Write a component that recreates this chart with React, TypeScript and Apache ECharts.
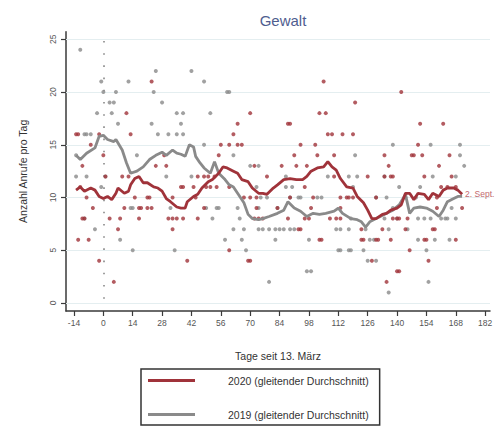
import React, { useEffect, useRef } from "react";
import * as echarts from "echarts";

const xTicks = [-14, 0, 14, 28, 42, 56, 70, 84, 98, 112, 126, 140, 154, 168, 182];
const yTicks = [0, 5, 10, 15, 20, 25];
const refDay = 0;

const label2020 = "2020 (gleitender Durchschnitt)";
const label2019 = "2019 (gleitender Durchschnitt)";
const endLabelText = "2. Sept.";

const avg2020: [number, number][] = [
  [-13, 10.7], [-11, 11.0], [-9, 10.6], [-6, 10.9], [-4, 10.7], [-2, 10.1], [0, 9.9], [2, 10.1], [4, 9.8],
  [6, 10.4], [7, 10.9], [10, 10.4], [12, 10.6], [13, 11.2], [15, 11.8], [17, 12.0], [19, 11.4], [21, 11.4],
  [24, 11.0], [26, 10.9], [28, 10.6], [30, 9.9], [32, 9.6], [35, 9.1], [37, 9.0], [39, 9.0], [40, 9.6],
  [43, 10.1], [45, 10.3], [47, 10.9], [50, 11.5], [52, 11.7], [55, 12.3], [57, 12.9], [59, 12.8], [62, 12.5],
  [64, 12.3], [66, 11.7], [69, 11.5], [71, 10.9], [74, 10.4], [76, 10.4], [78, 10.3], [81, 10.9], [83, 11.2],
  [86, 11.7], [89, 11.8], [92, 11.7], [95, 11.7], [97, 12.0], [99, 12.5], [102, 12.8], [105, 12.9], [107, 13.4],
  [109, 12.9], [111, 12.6], [113, 11.8], [116, 11.0], [119, 10.9], [121, 10.1], [124, 9.5], [126, 8.8],
  [128, 8.0], [130, 8.0], [133, 8.4], [135, 8.5], [137, 8.8], [140, 9.0], [142, 9.3], [144, 10.4], [146, 10.4],
  [148, 9.8], [150, 10.4], [153, 10.3], [155, 9.8], [157, 10.4], [160, 10.1], [162, 10.7], [164, 10.9],
  [167, 10.9], [169, 10.7], [171, 10.3],
];

const avg2019: [number, number][] = [
  [-13, 14.0], [-11, 13.6], [-8, 14.2], [-4, 14.7], [-2, 15.8], [0, 15.9], [2, 15.5], [5, 15.3], [6, 15.5],
  [9, 14.5], [11, 13.3], [13, 12.3], [16, 12.5], [19, 12.9], [22, 13.6], [25, 14.0], [28, 14.3], [30, 14.0],
  [33, 14.5], [35, 14.2], [37, 14.1], [39, 13.9], [41, 15.0], [43, 14.8], [44, 13.9], [46, 13.3], [48, 12.8],
  [51, 12.3], [53, 13.4], [55, 12.3], [58, 11.7], [60, 11.2], [62, 11.0], [64, 10.4], [67, 9.5], [69, 8.4],
  [71, 8.0], [74, 7.9], [76, 8.0], [79, 8.2], [83, 8.5], [86, 8.8], [88, 9.6], [91, 9.0], [94, 8.7], [97, 8.2],
  [100, 8.5], [103, 8.4], [106, 8.5], [110, 8.7], [112, 9.0], [114, 8.5], [118, 8.0], [121, 7.9], [123, 7.7],
  [125, 7.2], [127, 7.7], [130, 8.0], [132, 8.2], [135, 8.5], [138, 8.8], [141, 9.3], [144, 10.3], [146, 8.5],
  [148, 9.0], [151, 9.1], [154, 9.0], [157, 8.7], [160, 8.2], [162, 8.8], [164, 9.6], [167, 9.9], [169, 10.1],
  [171, 10.1],
];

const pts2020: [number, number][] = [
  [23, 21], [105, 21], [142, 20], [120, 19],
  [11, 18], [70, 18], [103, 18], [106, 18],
  [64, 17], [88, 17], [89, 17], [151, 17], [162, 17],
  [-13, 16], [-12, 16], [-2, 16], [13, 16], [62, 16], [107, 16], [109, 16], [114, 16], [119, 16],
  [-6, 15], [56, 15], [60, 15], [64, 15], [66, 15], [94, 15], [101, 15], [150, 15],
  [0, 14], [29, 14], [55, 14], [91, 14], [102, 14], [110, 14], [134, 14], [147, 14], [148, 14], [152, 14], [165, 14],
  [-10, 13], [25, 13], [30, 13], [72, 13], [85, 13], [92, 13], [97, 13], [136, 13], [160, 13],
  [1, 12], [9, 12], [12, 12], [45, 12], [48, 12], [50, 12], [53, 12], [78, 12], [110, 12], [126, 12], [134, 12],
  [137, 12], [138, 12], [153, 12], [166, 12],
  [-11, 11], [37, 11], [38, 11], [43, 11], [49, 11], [51, 11], [54, 11], [60, 11], [96, 11], [161, 11], [164, 11], [168, 11],
  [-8, 10], [15, 10], [21, 10], [22, 10], [33, 10], [44, 10], [67, 10], [70, 10], [73, 10], [89, 10], [100, 10],
  [113, 10], [116, 10], [117, 10], [119, 10], [130, 10], [159, 10],
  [-5, 9], [10, 9], [17, 9], [18, 9], [21, 9], [23, 9], [48, 9], [73, 9], [83, 9], [99, 9], [113, 9], [159, 9], [171, 9],
  [-10, 8], [-9, 8], [3, 8], [8, 8], [17, 8], [31, 8], [33, 8], [35, 8], [38, 8], [45, 8], [72, 8], [74, 8], [76, 8],
  [88, 8], [96, 8], [98, 8], [108, 8], [111, 8], [113, 8], [138, 8], [140, 8], [141, 8], [145, 8],
  [7, 7], [33, 7], [93, 7], [94, 7], [123, 7], [133, 7], [144, 7], [157, 7], [158, 7],
  [-12, 6], [-7, 6], [103, 6], [104, 6], [123, 6], [124, 6], [130, 6], [131, 6], [137, 6], [153, 6], [154, 6], [168, 6],
  [60, 5], [146, 5],
  [-2, 4], [40, 4], [69, 4], [70, 4], [128, 4], [155, 4],
  [140, 3], [141, 3],
  [5, 2], [135, 2],
];

const pts2019: [number, number][] = [
  [-11, 24], [25, 22], [42, 22], [-1, 21], [12, 21], [48, 21],
  [0, 20], [6, 20], [24, 20], [59, 20], [60, 20],
  [3, 19], [5, 19], [28, 19],
  [-3, 18], [4, 18], [35, 18], [38, 18], [51, 18],
  [7, 17], [23, 17], [37, 17],
  [-9, 16], [-8, 16], [-6, 16], [26, 16], [31, 16], [35, 16], [38, 16],
  [48, 15], [138, 15], [156, 15], [170, 15],
  [-13, 14], [16, 14], [62, 14], [120, 14], [170, 14],
  [70, 13], [74, 13], [172, 13],
  [-13, 12], [-8, 12], [1, 12], [30, 12], [42, 12], [87, 12], [107, 12], [117, 12], [121, 12], [134, 12], [157, 12], [168, 12],
  [-1, 11], [73, 11], [87, 11], [90, 11], [119, 11], [141, 11], [151, 11],
  [75, 10], [78, 10], [89, 10], [93, 10], [94, 10], [102, 10], [104, 10], [130, 10], [135, 10], [144, 10], [149, 10],
  [13, 9], [14, 9], [32, 9], [49, 9], [54, 9], [55, 9], [64, 9], [74, 9], [83, 9], [138, 9], [166, 9],
  [-9, 8], [52, 8], [65, 8], [118, 8], [134, 8], [140, 8], [150, 8], [153, 8], [156, 8], [161, 8], [163, 8], [164, 8], [168, 8],
  [-4, 7], [62, 7], [67, 7], [74, 7], [76, 7], [79, 7], [82, 7], [84, 7], [86, 7], [89, 7], [91, 7], [111, 7], [113, 7],
  [117, 7], [125, 7], [136, 7], [145, 7],
  [8, 6], [58, 6], [66, 6], [82, 6], [98, 6], [127, 6], [129, 6], [150, 6], [158, 6], [165, 6],
  [14, 5], [34, 5], [68, 5], [112, 5], [113, 5], [117, 5], [118, 5], [124, 5], [154, 5],
  [126, 4], [130, 4], [97, 3], [99, 3], [79, 2], [155, 2], [136, 1],
];

const FONT = "Liberation Sans, Arial, sans-serif";
const RED = "#a0333a";
const GRAY = "#8a8a8a";

export default function App() {
  const ref = useRef<HTMLDivElement>(null);
  useEffect(() => {
    if (!ref.current) return;
    const chart = echarts.init(ref.current, null, { renderer: "svg" });
    chart.setOption({
      animation: false,
      backgroundColor: "#ffffff",
      textStyle: { fontFamily: FONT },
      title: {
        text: "Gewalt",
        left: 278,
        top: 8,
        textAlign: "center",
        textStyle: { color: "#4f5d8f", fontSize: 15, fontWeight: "normal", fontFamily: FONT },
      },
      grid: { left: 66, right: 13, top: 31.7, bottom: 117 },
      legend: {
        data: [label2020, label2019],
        orient: "vertical",
        left: 141,
        top: 369,
        padding: [6, 11, 5, 7],
        itemWidth: 47,
        itemHeight: 3,
        itemGap: 23,
        icon: "rect",
        borderColor: "#333",
        borderWidth: 1.5,
        borderRadius: 0,
        selectedMode: false,
        textStyle: { fontSize: 10.5, color: "#333", fontFamily: FONT, padding: [0, 0, 0, 28] },
      },
      xAxis: {
        type: "value",
        min: -17.8,
        max: 184.3,
        name: "Tage seit 13. März",
        nameLocation: "middle",
        nameGap: 39,
        nameTextStyle: { fontSize: 10.5, color: "#333", fontFamily: FONT },
        axisLine: { show: true, onZero: false, lineStyle: { color: "#3a3a3a", width: 1.5 } },
        axisTick: { show: true, length: 5, customValues: xTicks, lineStyle: { color: "#3a3a3a", width: 1.2 } },
        axisLabel: { customValues: xTicks, fontSize: 8.5, color: "#555", margin: 7, fontFamily: FONT },
        splitLine: { show: false },
      },
      yAxis: {
        type: "value",
        min: -0.76,
        max: 25.72,
        name: "Anzahl Anrufe pro Tag",
        nameLocation: "middle",
        nameGap: 38,
        nameTextStyle: { fontSize: 10.5, color: "#333", fontFamily: FONT },
        axisLine: { show: true, onZero: false, lineStyle: { color: "#3a3a3a", width: 1.5 } },
        axisTick: { show: true, length: 5, customValues: yTicks, lineStyle: { color: "#3a3a3a", width: 1.2 } },
        axisLabel: { customValues: yTicks, rotate: 90, fontSize: 8.5, color: "#555", margin: 9, fontFamily: FONT },
        splitLine: { show: false },
      },
      series: [
        {
          name: "2019 Punkte",
          type: "scatter",
          data: pts2019,
          symbolSize: 4,
          itemStyle: { color: GRAY },
          z: 2,
          silent: true,
          markLine: {
            silent: true,
            symbol: "none",
            z: 1,
            label: { show: false },
            lineStyle: { color: "#e4eef0", width: 1, type: "solid" },
            data: yTicks.map((v) => ({ yAxis: v })),
          },
        },
        {
          name: "2020 Punkte",
          type: "scatter",
          data: pts2020,
          symbolSize: 4,
          itemStyle: { color: RED },
          z: 3,
          silent: true,
          markLine: {
            silent: true,
            symbol: "none",
            z: 1,
            label: { show: false },
            lineStyle: { color: "#888", width: 1.6, type: [1.6, 10.6] },
            data: [[{ coord: [refDay, 0.4] }, { coord: [refDay, 25.7] }]],
          },
        },
        {
          name: label2019,
          type: "line",
          data: avg2019,
          symbol: "none",
          showSymbol: false,
          lineStyle: { color: GRAY, width: 2.8 },
          itemStyle: { color: GRAY },
          z: 4,
        },
        {
          name: label2020,
          type: "line",
          data: avg2020,
          symbol: "none",
          showSymbol: false,
          lineStyle: { color: RED, width: 2.8 },
          itemStyle: { color: RED },
          z: 5,
          endLabel: {
            show: true,
            formatter: endLabelText,
            color: "#c2686d",
            fontSize: 8.5,
            distance: 3,
            fontFamily: FONT,
          },
        },
      ],
    });
    return () => chart.dispose();
  }, []);
  return <div ref={ref} style={{ position: "absolute", left: 0, top: 0, width: 503, height: 428 }} />;
}
